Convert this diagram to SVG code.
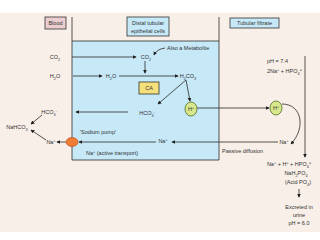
<svg xmlns="http://www.w3.org/2000/svg" width="320" height="240" viewBox="0 0 320 240">
<defs>
<style>
text{font-family:"Liberation Sans",Arial,sans-serif;font-size:5.5px;fill:#333}
.m{text-anchor:middle}
.sp{font-size:3.8px}
.ln{fill:none;stroke:#2b2b2b;stroke-width:0.8}
.lbl{stroke:#333;stroke-width:0.8}
</style>
<marker id="ah" viewBox="0 0 6 6" refX="5" refY="3" markerWidth="4" markerHeight="4" orient="auto" markerUnits="userSpaceOnUse">
<path d="M0,0 L6,3 L0,6 Z" fill="#222"/>
</marker>
</defs>
<rect x="0" y="0" width="320" height="240" fill="#ffffff"/>
<rect x="0" y="13" width="320" height="219" fill="#f8efe8"/>
<g id="cell-region">
<rect x="72" y="41" width="147" height="119" fill="#c6e8f7"/>
<path class="ln" d="M72,41 H219 M72,160 H219 M72,17 V160 M219,17 V160"/>
</g>
<g id="connectors">
<path class="ln" marker-end="url(#ah)" d="M72,57 H136"/>
<path class="ln" marker-end="url(#ah)" d="M73,76 H102"/>
<path class="ln" marker-end="url(#ah)" d="M165,48 Q157,49 154,55"/>
<path class="ln" marker-end="url(#ah)" d="M145,61 V73"/>
<path class="ln" marker-end="url(#ah)" d="M119,76 H178"/>
<path class="ln" marker-end="url(#ah)" d="M186,80 L158,104"/>
<path class="ln" marker-end="url(#ah)" d="M186,80 L190,101"/>
<path class="ln" marker-end="url(#ah)" d="M128,112 H76"/>
<path class="ln" marker-end="url(#ah)" d="M197,108 H269"/>
<path class="ln" marker-end="url(#ah)" d="M282,104 C302,104 306,128 291,144"/>
<path class="ln" marker-end="url(#ah)" d="M305,56 V157"/>
<path class="ln" marker-end="url(#ah)" d="M278,142 H172"/>
<path class="ln" marker-end="url(#ah)" d="M156,142 H79"/>
<path class="ln" marker-end="url(#ah)" d="M66,142 H57"/>
<path class="ln" marker-end="url(#ah)" d="M42,115 L31,124"/>
<path class="ln" marker-end="url(#ah)" d="M46,140 L31,130"/>
<path class="ln" marker-end="url(#ah)" d="M299,189 V197"/>
</g>
<g id="label-blood">
<rect class="lbl" x="45" y="17" width="21" height="12" fill="#ebcdd0"/>
<text class="m" x="55.5" y="25">Blood</text>
</g>
<g id="label-distal">
<rect class="lbl" x="127" y="17" width="42" height="19" fill="#c6e8f7"/>
<text class="m" x="148" y="25">Distal tubular</text>
<text class="m" x="148" y="33">epithelial cells</text>
</g>
<g id="label-filtrate">
<rect class="lbl" x="230" y="18" width="49" height="10" fill="#c6e8f7"/>
<text class="m" x="254.5" y="25">Tubular filtrate</text>
</g>
<g id="co2-blood"><text class="m" x="55" y="59">CO<tspan class="sp" baseline-shift="sub">2</tspan></text></g>
<g id="h2o-blood"><text class="m" x="55" y="78">H<tspan class="sp" baseline-shift="sub">2</tspan>O</text></g>
<g id="co2-cell"><text class="m" x="146" y="59">CO<tspan class="sp" baseline-shift="sub">2</tspan></text></g>
<g id="metabolite"><text x="167" y="50">Also a Metabolite</text></g>
<g id="h2o-cell"><text class="m" x="111" y="78">H<tspan class="sp" baseline-shift="sub">2</tspan>O</text></g>
<g id="h2co3"><text class="m" x="188" y="78">H<tspan class="sp" baseline-shift="sub">2</tspan>CO<tspan class="sp" baseline-shift="sub">3</tspan></text></g>
<g id="ca">
<rect x="139" y="82" width="20" height="12" fill="#f5e07c" stroke="#333" stroke-width="0.8"/>
<text class="m" x="149" y="90">CA</text>
</g>
<g id="hco3-cell"><text class="m" x="147" y="115">HCO<tspan class="sp" baseline-shift="sub">3</tspan><tspan class="sp" baseline-shift="super">-</tspan></text></g>
<g id="h-cell">
<ellipse cx="191" cy="109" rx="6" ry="7" fill="#d9e88c" stroke="#4c6b1e" stroke-width="0.8"/>
<text class="m" x="191" y="111">H<tspan class="sp" baseline-shift="super">+</tspan></text>
</g>
<g id="h-filtrate">
<ellipse cx="276" cy="108" rx="6" ry="7" fill="#d9e88c" stroke="#4c6b1e" stroke-width="0.8"/>
<text class="m" x="276" y="110">H<tspan class="sp" baseline-shift="super">+</tspan></text>
</g>
<g id="filtrate-ph">
<text x="267" y="63">pH = 7.4</text>
<text x="267" y="73">2Na<tspan class="sp" baseline-shift="super">+</tspan> + HPO<tspan class="sp" baseline-shift="sub">4</tspan><tspan class="sp" baseline-shift="super">=</tspan></text>
</g>
<g id="hco3-blood"><text class="m" x="49" y="114">HCO<tspan class="sp" baseline-shift="sub">3</tspan><tspan class="sp" baseline-shift="super">-</tspan></text></g>
<g id="nahco3"><text class="m" x="17" y="129">NaHCO<tspan class="sp" baseline-shift="sub">3</tspan></text></g>
<g id="na-blood"><text class="m" x="51" y="144">Na<tspan class="sp" baseline-shift="super">+</tspan></text></g>
<g id="pump">
<ellipse cx="72" cy="142" rx="6" ry="4.5" fill="#f07b35" stroke="#b44a12" stroke-width="0.6"/>
<text x="80" y="134">'Sodium pump'</text>
</g>
<g id="na-cell"><text class="m" x="163" y="143">Na<tspan class="sp" baseline-shift="super">+</tspan></text></g>
<g id="active"><text x="86" y="155">Na<tspan class="sp" baseline-shift="super">+</tspan> (active transport)</text></g>
<g id="na-filtrate"><text class="m" x="284" y="144">Na<tspan class="sp" baseline-shift="super">+</tspan></text></g>
<g id="passive"><text x="222" y="153">Passive diffusion</text></g>
<g id="acid-po4">
<text class="m" x="289" y="166">Na<tspan class="sp" baseline-shift="super">+</tspan> + H<tspan class="sp" baseline-shift="super">+</tspan> + HPO<tspan class="sp" baseline-shift="sub">4</tspan><tspan class="sp" baseline-shift="super">=</tspan></text>
<text class="m" x="296" y="175">NaH<tspan class="sp" baseline-shift="sub">2</tspan>PO<tspan class="sp" baseline-shift="sub">4</tspan></text>
<text class="m" x="298" y="184">(Acid PO<tspan class="sp" baseline-shift="sub">4</tspan>)</text>
</g>
<g id="urine">
<text class="m" x="299" y="209">Excreted in</text>
<text class="m" x="299" y="217">urine</text>
<text class="m" x="299" y="225">pH = 6.0</text>
</g>
</svg>
